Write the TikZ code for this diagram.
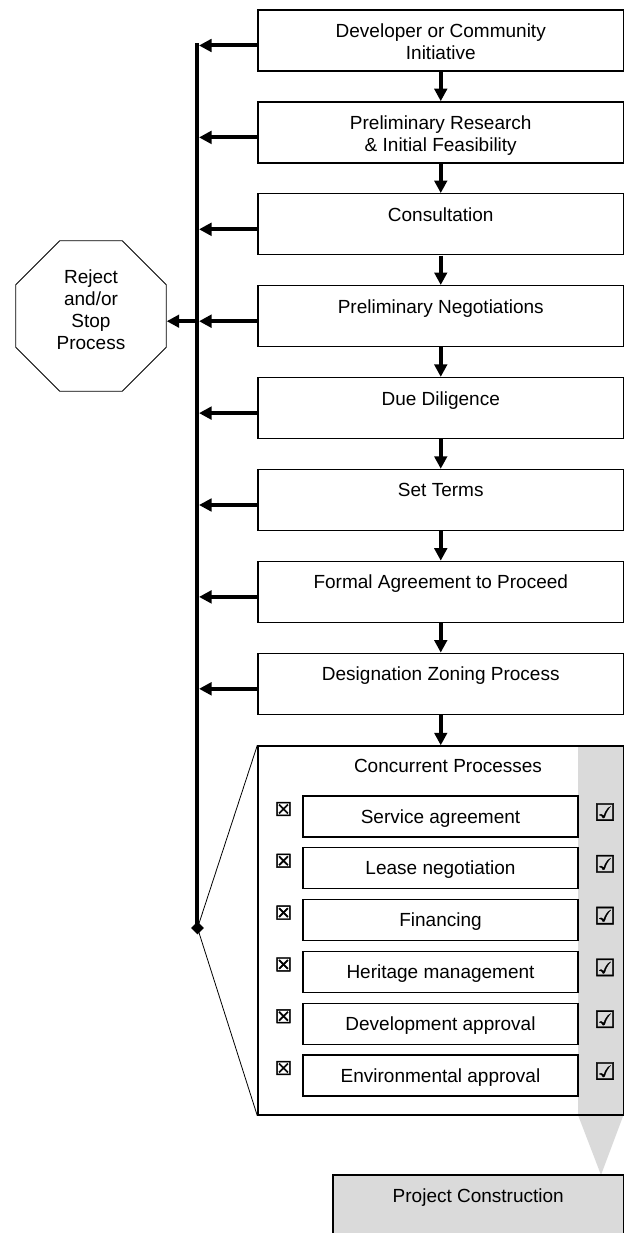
\documentclass[tikz,border=0pt]{standalone}
\usepackage{fontspec}
\setmainfont{Liberation Sans}
\newfontfamily\symfont[FakeBold=2.5]{DejaVu Sans}
\newfontfamily\symfontok[FakeBold=1.2]{DejaVu Sans}
\usetikzlibrary{arrows.meta,shapes.geometric}

\definecolor{panelgray}{gray}{0.855}

\begin{document}
\begin{tikzpicture}[x=1pt,y=-1pt,
  stepbox/.style={draw, line width=1.4pt, fill=white, minimum width=365.5pt,
    minimum height=61pt, inner sep=0pt},
  steptext/.style={anchor=north, align=center, inner sep=0pt,
    font=\fontsize{19}{22}\selectfont},
  subbox/.style={draw, line width=1.3pt, minimum width=275pt, minimum height=41pt,
    inner sep=0pt, font=\fontsize{19}{22}\selectfont, text height=14pt, text depth=1pt},
  nomark/.style={inner sep=0pt, font=\symfont\fontsize{19}{19}\selectfont},
  okmark/.style={inner sep=0pt, font=\symfontok\fontsize{24}{24}\selectfont},
  flow/.style={line width=4pt, -{Triangle[length=12.5pt,width=12.5pt]}},
  bus/.style={line width=4pt},
  fan/.style={line width=0.8pt},
  stopsign/.style={draw, line width=0.8pt, fill=white, regular polygon,
    regular polygon sides=8, minimum size=163pt, inner sep=0pt},
]
\useasboundingbox (0,0) rectangle (625,1233);

% main sequence of steps
\node[stepbox] (b1) at (440.75,40.5) {};
\node[steptext] (t1) at ([yshift=-14.3pt]b1.north) {Developer or Community\\Initiative};
\node[stepbox] (b2) at (440.75,132.4) {};
\node[steptext] (t2) at ([yshift=-14.3pt]b2.north) {Preliminary Research\\\& Initial Feasibility};
\node[stepbox] (b3) at (440.75,224.3) {};
\node[steptext] (t3) at ([yshift=-14.3pt]b3.north) {Consultation};
\node[stepbox] (b4) at (440.75,316.2) {};
\node[steptext] (t4) at ([yshift=-14.3pt]b4.north) {Preliminary Negotiations};
\node[stepbox] (b5) at (440.75,408.1) {};
\node[steptext] (t5) at ([yshift=-14.3pt]b5.north) {Due Diligence};
\node[stepbox] (b6) at (440.75,500) {};
\node[steptext] (t6) at ([yshift=-14.3pt]b6.north) {Set Terms};
\node[stepbox] (b7) at (440.75,591.9) {};
\node[steptext] (t7) at ([yshift=-14.3pt]b7.north) {Formal Agreement to Proceed};
\node[stepbox] (b8) at (440.75,683.8) {};
\node[steptext] (t8) at ([yshift=-14.3pt]b8.north) {Designation Zoning Process};

% concurrent processes panel with its grey completion strip
\fill[panelgray] (578,746) rectangle (623.5,1115);
\fill[panelgray] (578,1115) -- (623.5,1115) -- (601,1175) -- cycle;
\node[draw, line width=1.4pt, minimum width=365.5pt, minimum height=369pt, inner sep=0pt]
  (conc) at (440.75,930.5) {};
\node[inner sep=0pt, font=\fontsize{19}{22}\selectfont, text height=14pt, text depth=1pt]
  (conclbl) at (448,766) {Concurrent Processes};

\node[subbox] (s1) at (440.5,816.5) {Service agreement};
\node[subbox] (s2) at (440.5,868.3) {Lease negotiation};
\node[subbox] (s3) at (440.5,920.1) {Financing};
\node[subbox] (s4) at (440.5,971.9) {Heritage management};
\node[subbox] (s5) at (440.5,1023.7) {Development approval};
\node[subbox] (s6) at (440.5,1075.5) {Environmental approval};

\foreach \i in {1,...,6}{
  \node[nomark] (x\i) at ([xshift=-157pt,yshift=7.5pt]s\i.center) {☒};
  \node[okmark] (k\i) at ([xshift=164.5pt,yshift=4.5pt]s\i.center) {☑};
}

% final step
\node[stepbox, fill=panelgray] (proj) at (478.25,1205.5) [minimum width=290.5pt] {};
\node[steptext] (tp) at ([yshift=-14.3pt]proj.north) {Project Construction};

% forward arrows
\draw[flow] (b1) -- (b2);
\draw[flow] (b2) -- (b3);
\draw[flow] (b3) -- (b4);
\draw[flow] (b4) -- (b5);
\draw[flow] (b5) -- (b6);
\draw[flow] (b6) -- (b7);
\draw[flow] (b7) -- (b8);
\draw[flow] (b8.south) -- (conc.north);

% exit bus on the left
\coordinate (bustop) at (197,43.5);
\node[diamond, fill=black, inner sep=0pt, minimum size=13pt] (dia) at (197.5,928) {};
\draw[bus] (bustop) -- (197,928);
\draw[fan] (dia.center) -- (conc.north west);
\draw[fan] (dia.center) -- (conc.south west);

\coordinate (j1) at (199,45.5);
\coordinate (j2) at (199,137.4);
\coordinate (j3) at (199,229.3);
\coordinate (j4) at (199,321.2);
\coordinate (j5) at (199,413.1);
\coordinate (j6) at (199,505);
\coordinate (j7) at (199,596.9);
\coordinate (j8) at (199,688.8);
\foreach \i in {1,...,8}{
  \draw[flow] (b\i.west |- j\i) -- (j\i);
}

% stop sign
\node[stopsign] (stop) at (91,316) {};
\node[inner sep=0pt, align=center, font=\fontsize{19}{22}\selectfont] (stoptxt) at (91,309.5)
  {Reject\\and/or\\Stop\\Process};
\draw[flow] (j4) -- (stop.east |- j4);
\end{tikzpicture}
\end{document}
